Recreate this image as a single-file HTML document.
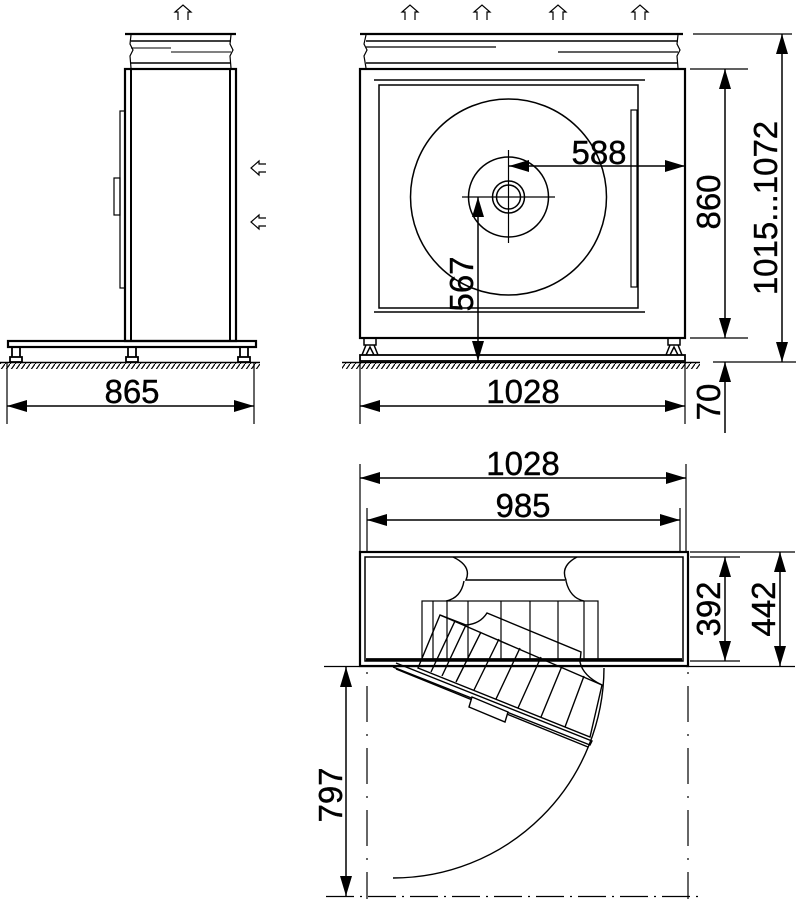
<!DOCTYPE html>
<html><head><meta charset="utf-8"><style>
html,body{margin:0;padding:0;background:#fff}
svg{display:block}
text{font-family:"Liberation Sans",Arial,sans-serif;fill:#000}
</style></head><body>
<svg width="800" height="899" viewBox="0 0 800 899" xmlns="http://www.w3.org/2000/svg">
<defs>
<pattern id="h" width="5" height="7" patternUnits="userSpaceOnUse">
<line x1="5" y1="0" x2="0" y2="7" stroke="#000" stroke-width="1.2"/>
</pattern>
<marker id="a" viewBox="0 0 20 12" refX="20" refY="6" markerWidth="20" markerHeight="12" markerUnits="userSpaceOnUse" orient="auto-start-reverse">
<path d="M0,0 L20,6 L0,12 Z" fill="#000"/>
</marker>
</defs>
<g fill="none" stroke="#000" stroke-width="1.5">
<!-- ===== LEFT (side) VIEW ===== -->
<path d="M178,20 V12 H175 L183,5 L191,12 H188 V20" stroke-width="1.2"/>
<line x1="125" y1="34" x2="236" y2="34" stroke-width="2.2"/>
<line x1="131" y1="41" x2="231" y2="41"/>
<line x1="131" y1="63" x2="231" y2="63"/>
<line x1="131" y1="48" x2="171" y2="48" stroke-width="1"/>
<line x1="171" y1="52" x2="231" y2="52" stroke-width="1"/>
<path d="M131,35 L130,44 L133,50 L130,56 L131,68 M231,35 L230,44 L233,50 L230,56 L231,68" stroke-width="1.2"/>
<rect x="125" y="69" width="111" height="272" stroke-width="2.2"/>
<line x1="131" y1="69" x2="131" y2="341" stroke-width="2"/>
<line x1="230" y1="69" x2="230" y2="341" stroke-width="2"/>
<rect x="120" y="111" width="5" height="177" stroke-width="1.2"/>
<rect x="114" y="178" width="6" height="37" stroke-width="1.2"/>
<rect x="8" y="341" width="248" height="6" stroke-width="2.2"/>
<path d="M12,347 V357 M20,347 V357 M128,347 V357 M136,347 V357 M240,347 V357 M248,347 V357" stroke-width="1.8"/>
<rect x="10" y="357" width="12" height="5" stroke-width="1.8"/>
<rect x="126" y="357" width="12" height="5" stroke-width="1.8"/>
<rect x="238" y="357" width="12" height="5" stroke-width="1.8"/>
<rect x="0" y="363" width="260" height="6" fill="url(#h)" stroke="none"/>
<line x1="0" y1="362.5" x2="260" y2="362.5"/>
<path d="M266,164 H259 V161 L251,168 L259,175 V172 H266 M266,218 H259 V215 L251,222 L259,229 V226 H266" stroke-width="1.2"/>
<line x1="7" y1="362" x2="7" y2="424" stroke-width="1.2"/>
<line x1="254" y1="362" x2="254" y2="424" stroke-width="1.2"/>
<line x1="7" y1="406" x2="254" y2="406" marker-start="url(#a)" marker-end="url(#a)"/>

<!-- ===== FRONT VIEW ===== -->
<g stroke-width="1.2">
<path d="M405,20 V12 H402 L410,5 L418,12 H415 V20"/>
<path d="M477,20 V12 H474 L482,5 L490,12 H487 V20"/>
<path d="M553,20 V12 H550 L558,5 L566,12 H563 V20"/>
<path d="M635,20 V12 H632 L640,5 L648,12 H645 V20"/>
</g>
<line x1="360" y1="34" x2="683" y2="34" stroke-width="2.2"/>
<line x1="366" y1="41" x2="678" y2="41"/>
<line x1="366" y1="63" x2="678" y2="63"/>
<line x1="366" y1="47" x2="496" y2="47" stroke-width="1.2"/>
<line x1="558" y1="52" x2="678" y2="52" stroke-width="1.2"/>
<path d="M366,35 L364,44 L367,50 L364,56 L366,68 M678,35 L677,44 L680,50 L677,56 L678,68" stroke-width="1.2"/>
<rect x="360" y="69" width="325" height="269" stroke-width="2.2"/>
<line x1="374" y1="80" x2="645" y2="80"/>
<line x1="374" y1="312" x2="645" y2="312"/>
<rect x="379" y="85" width="259" height="223"/>
<rect x="631" y="110" width="6" height="177" stroke-width="1.2"/>
<circle cx="508.5" cy="197" r="98"/>
<circle cx="508.5" cy="197" r="40"/>
<circle cx="508.5" cy="197" r="16"/>
<circle cx="508.5" cy="197" r="12"/>
<line x1="462" y1="197" x2="555" y2="197" stroke-width="1.2"/>
<line x1="508.5" y1="150" x2="508.5" y2="243" stroke-width="1.2"/>
<path d="M364,338 V345 H376 V338 M362,355 L366,345 H374 L378,355 M366,355 L370,347 L374,355" stroke-width="1.5"/>
<path d="M668,338 V345 H680 V338 M666,355 L670,345 H678 L682,355 M670,355 L674,347 L678,355" stroke-width="1.5"/>
<rect x="360" y="355" width="325" height="6" stroke-width="1.8"/>
<rect x="342" y="363" width="358" height="6" fill="url(#h)" stroke="none"/>
<line x1="342" y1="362.5" x2="700" y2="362.5"/>
<line x1="509" y1="166" x2="685" y2="166" marker-start="url(#a)" marker-end="url(#a)"/>
<line x1="478" y1="197" x2="478" y2="361" marker-start="url(#a)" marker-end="url(#a)"/>
<line x1="360" y1="362" x2="360" y2="424" stroke-width="1.2"/>
<line x1="685" y1="362" x2="685" y2="424" stroke-width="1.2"/>
<line x1="360" y1="406" x2="685" y2="406" marker-start="url(#a)" marker-end="url(#a)"/>
<line x1="693" y1="34" x2="792" y2="34" stroke-width="1.2"/>
<line x1="690" y1="69" x2="748" y2="69" stroke-width="1.2"/>
<line x1="690" y1="338" x2="748" y2="338" stroke-width="1.2"/>
<line x1="713" y1="362" x2="796" y2="362" stroke-width="1.2"/>
<line x1="725" y1="69" x2="725" y2="338" marker-start="url(#a)" marker-end="url(#a)"/>
<line x1="782" y1="34" x2="782" y2="362" marker-start="url(#a)" marker-end="url(#a)"/>
<line x1="725" y1="362" x2="725" y2="433" marker-start="url(#a)"/>

<!-- ===== TOP VIEW ===== -->
<line x1="360" y1="464" x2="360" y2="553" stroke-width="1.2"/>
<line x1="686" y1="464" x2="686" y2="553" stroke-width="1.2"/>
<line x1="367" y1="508" x2="367" y2="553" stroke-width="1.2"/>
<line x1="680" y1="508" x2="680" y2="553" stroke-width="1.2"/>
<line x1="360" y1="478" x2="686" y2="478" marker-start="url(#a)" marker-end="url(#a)"/>
<line x1="367" y1="520" x2="680" y2="520" marker-start="url(#a)" marker-end="url(#a)"/>
<rect x="360" y="552" width="328" height="114" stroke-width="2.2"/>
<rect x="365" y="557" width="318" height="104"/>
<path d="M453,557 Q472,566 466,580 L566,580 Q560,566 577,557" stroke-width="1.4"/>
<path d="M464,581 Q461,598 446,601 M566,581 Q570,598 584,601" stroke-width="1.4"/>
<rect x="422" y="601" width="176" height="59" stroke-width="1.2"/>
<path d="M433,601 V660 M447,601 V660 M468,601 V660 M501,601 V660 M530,601 V660 M558,601 V660 M584,601 V660" stroke-width="1.2"/>
<line x1="366" y1="659.5" x2="682" y2="659.5" stroke-width="2.8"/>
<!-- rotated wheel -->
<g stroke-width="1.4">
<path d="M440,615 L466,625 Q480,624 487,613 L581,652 L580,662 Q583,676 602,685 L590,737 L418,668 Z"/>
<line x1="440" y1="615" x2="602" y2="685"/>
<path d="M455,621 L431,672 M466,625 L442,676 M481,632 L456,682 M499,639 L474,690 M520,648 L496,699 M541,657 L518,708 M562,666 L541,717 M584,676 L565,727"/>
<path d="M393,667 L590,745 L592,741 L396,663"/>
<path d="M396,669 L588,747"/>
<path d="M472,697 L508,712 L505,722 L469,707 Z" fill="#fff"/>
</g>
<path d="M604,668 A211,211 0 0 1 393,878" stroke-width="1.4"/>
<line x1="324" y1="666.5" x2="603" y2="666.5" stroke-width="1.2"/>
<line x1="686" y1="666.5" x2="795" y2="666.5" stroke-width="1.2"/>
<line x1="690" y1="552" x2="795" y2="552" stroke-width="1.2"/>
<line x1="690" y1="557" x2="740" y2="557" stroke-width="1.2"/>
<line x1="690" y1="661" x2="740" y2="661" stroke-width="1.2"/>
<line x1="725" y1="557" x2="725" y2="661" marker-start="url(#a)" marker-end="url(#a)"/>
<line x1="780" y1="552" x2="780" y2="666" marker-start="url(#a)" marker-end="url(#a)"/>
<line x1="346" y1="667" x2="346" y2="896" marker-start="url(#a)" marker-end="url(#a)"/>
<line x1="326" y1="896.5" x2="700" y2="896.5" stroke-width="1.2" stroke-dasharray="28,6,2,6"/>
<line x1="367" y1="672" x2="367" y2="899" stroke-width="1.2" stroke-dasharray="2,12,36,12"/>
<line x1="688" y1="672" x2="688" y2="899" stroke-width="1.2" stroke-dasharray="2,12,36,12"/>
</g>
<g font-size="33" stroke="#000" stroke-width="0.4">
<text x="132" y="403" text-anchor="middle">865</text>
<text x="523" y="403" text-anchor="middle">1028</text>
<text x="599" y="164" text-anchor="middle">588</text>
<text transform="translate(473,284) rotate(-90)" text-anchor="middle">567</text>
<text transform="translate(720,202) rotate(-90)" text-anchor="middle">860</text>
<text transform="translate(777,208) rotate(-90)" text-anchor="middle">1015...1072</text>
<text transform="translate(720,402) rotate(-90)" text-anchor="middle">70</text>
<text x="523" y="475" text-anchor="middle">1028</text>
<text x="523" y="517" text-anchor="middle">985</text>
<text transform="translate(720,609) rotate(-90)" text-anchor="middle">392</text>
<text transform="translate(775,609) rotate(-90)" text-anchor="middle">442</text>
<text transform="translate(342,795) rotate(-90)" text-anchor="middle">797</text>
</g>
</svg>
</body></html>
